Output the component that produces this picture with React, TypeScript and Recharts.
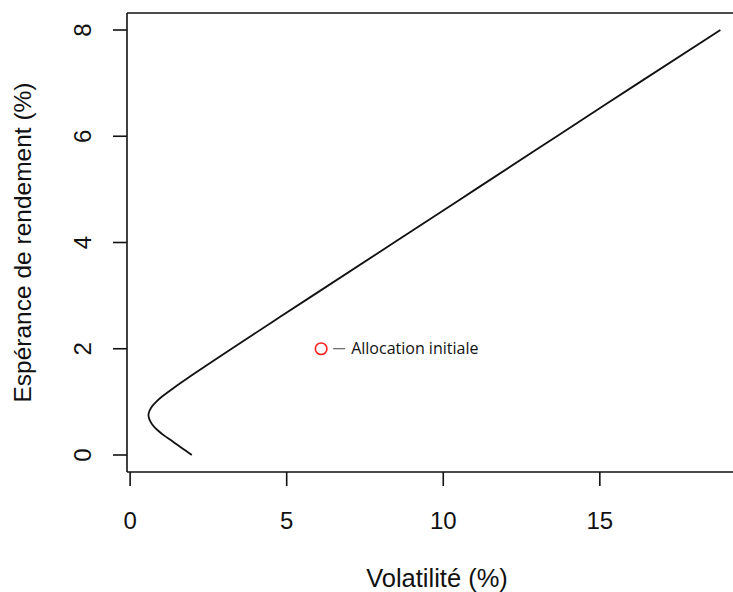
import React from "react";
import {
  ComposedChart,
  Line,
  Scatter,
  XAxis,
  YAxis,
  ReferenceLine,
} from "recharts";

// frontière efficiente (volatilité %, espérance de rendement %)
const expectedReturn = [
  0.0, 0.13, 0.25, 0.36, 0.47, 0.58, 0.68, 0.78, 0.9, 1.0, 1.1, 1.22, 1.35, 1.5,
  1.7, 2.0, 2.5, 3.0, 4.0, 5.0, 6.0, 7.0, 8.0,
];
const volatility = [
  1.97, 1.65, 1.37, 1.1, 0.87, 0.7, 0.61, 0.59, 0.68, 0.83, 1.02, 1.29, 1.6,
  1.97, 2.47, 3.24, 4.53, 5.83, 8.43, 11.03, 13.63, 16.23, 18.85,
];

const initialVol = [6.1];
const initialRet = [2.0];
const initialLabel = "Allocation initiale";

const xTicks = [0, 5, 10, 15];
const yTicks = [0, 2, 4, 6, 8];

const frontier = volatility.map((v, i) => ({ vol: v, ret: expectedReturn[i] }));
const initial = initialVol.map((v, i) => ({ vol: v, ret: initialRet[i], name: initialLabel }));

const axisFont = "'Liberation Sans', Arial, sans-serif";

const XTick = (props: any) => {
  const { x, y, payload } = props;
  return (
    <text x={x} y={y} dy="0.71em" textAnchor="middle" fontSize={24} fontFamily={axisFont} fill="#111">
      {payload.value}
    </text>
  );
};

const YTick = (props: any) => {
  const { x, y, payload } = props;
  return (
    <text
      x={x}
      y={y}
      textAnchor="middle"
      fontSize={24}
      fontFamily={axisFont}
      fill="#111"
      transform={`rotate(-90, ${x}, ${y})`}
    >
      {payload.value}
    </text>
  );
};

const XTitle = (props: any) => {
  const vb = props.viewBox || {};
  return (
    <text
      x={vb.x + vb.width / 2}
      y={vb.y + 115}
      textAnchor="middle"
      fontSize={25.5}
      fontFamily={axisFont}
      fill="#111"
    >
      Volatilité (%)
    </text>
  );
};

const YTitle = (props: any) => {
  const vb = props.viewBox || {};
  const x = vb.x + 31;
  const y = vb.y + vb.height / 2;
  return (
    <text
      x={x}
      y={y}
      textAnchor="middle"
      fontSize={24.5}
      fontFamily={axisFont}
      fill="#111"
      transform={`rotate(-90, ${x}, ${y})`}
    >
      Espérance de rendement (%)
    </text>
  );
};

const InitialPoint = (props: any) => {
  const { cx, cy, payload } = props;
  return (
    <g>
      <circle cx={cx} cy={cy} r={5.8} fill="none" stroke="#ff2020" strokeWidth={1.6} />
      <line x1={cx + 12} x2={cx + 24} y1={cy} y2={cy} stroke="#444" strokeWidth={1} />
      <text x={cx + 30} y={cy + 5.5} fontSize={16} fontFamily="'Open Sans', sans-serif" fill="#111">
        {payload.name}
      </text>
    </g>
  );
};

export default function App() {
  return (
    <div
      style={{
        position: "absolute",
        left: 0,
        top: 0,
        width: 733,
        height: 592,
        overflow: "hidden",
        background: "#fff",
      }}
    >
      <ComposedChart
        width={760}
        height={592}
        data={frontier}
        margin={{ top: 13, right: 13, bottom: 0, left: 0 }}
      >
        <XAxis
          dataKey="vol"
          type="number"
          domain={[-0.1, 19.7]}
          allowDataOverflow
          ticks={xTicks}
          height={120}
          tickSize={14}
          tickMargin={26}
          tick={<XTick />}
          axisLine={{ stroke: "#111", strokeWidth: 1.6 }}
          tickLine={{ stroke: "#111", strokeWidth: 1.6 }}
          label={(p: any) => <XTitle {...p} />}
        />
        <YAxis
          dataKey="ret"
          type="number"
          domain={[-0.32, 8.32]}
          allowDataOverflow
          ticks={yTicks}
          width={127}
          tickSize={14}
          tickMargin={22}
          tick={<YTick />}
          axisLine={{ stroke: "#111", strokeWidth: 1.6 }}
          tickLine={{ stroke: "#111", strokeWidth: 1.6 }}
          label={(p: any) => <YTitle {...p} />}
        />
        <ReferenceLine y={8.32} stroke="#111" strokeWidth={1.6} />
        <ReferenceLine x={19.7} stroke="#111" strokeWidth={1.6} />
        <Line
          dataKey="ret"
          type="natural"
          stroke="#111"
          strokeWidth={1.8}
          dot={false}
          activeDot={false}
          isAnimationActive={false}
        />
        <Scatter data={initial} dataKey="ret" shape={<InitialPoint />} isAnimationActive={false} />
      </ComposedChart>
    </div>
  );
}
